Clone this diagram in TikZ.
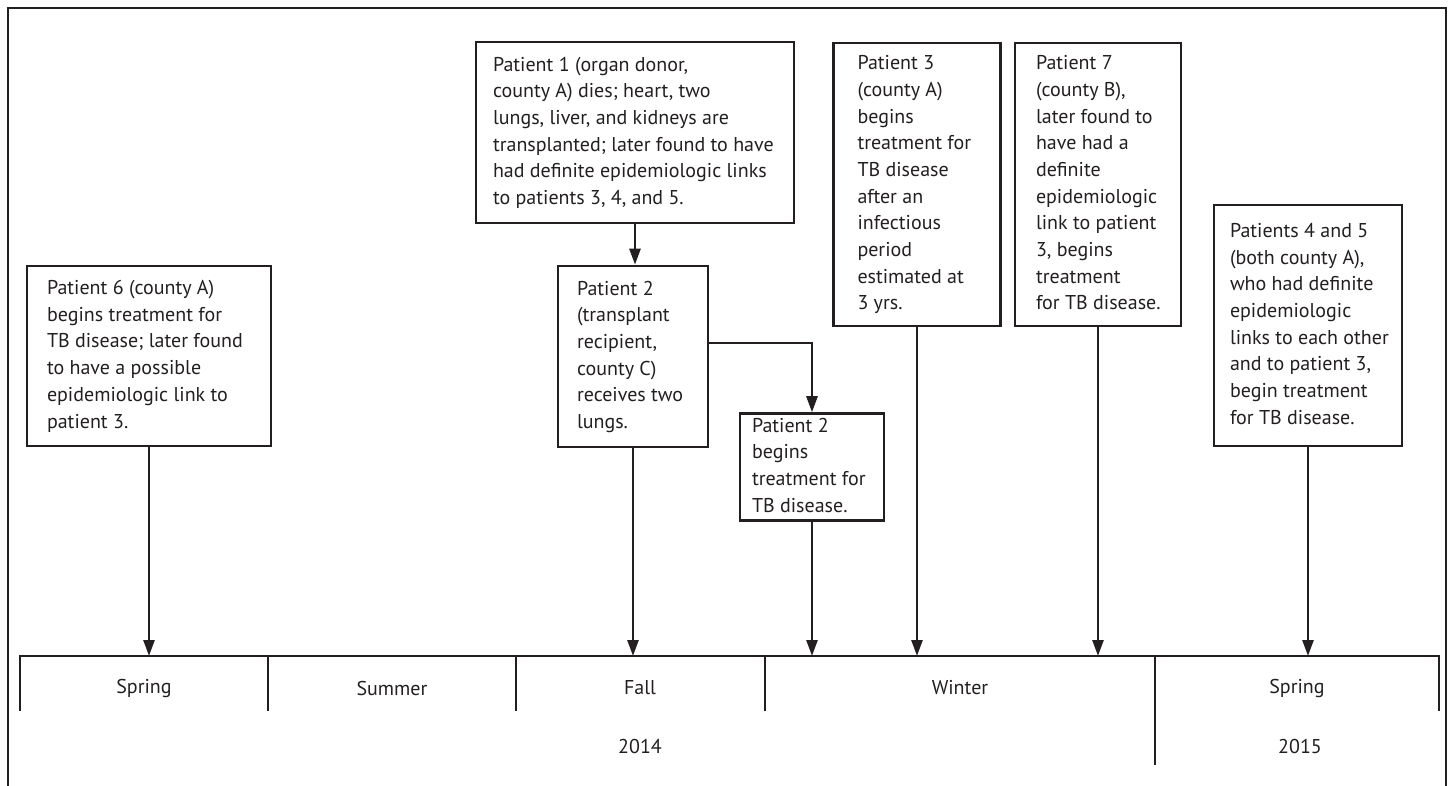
\documentclass[tikz,border=0pt]{standalone}
\usepackage{fontspec}
\setmainfont{PT Sans}
\usetikzlibrary{arrows.meta}
\definecolor{ink}{HTML}{231F20}
\newcommand{\boxtext}[2]{\makebox[#1][l]{\begin{tabular}{@{}l@{}}#2\end{tabular}}}
\begin{document}
\begin{tikzpicture}[x=1pt,y=-1pt,
  box/.style={draw=ink, line width=2.7pt, inner ysep=0pt, text=ink,
    font=\fontsize{20}{26.7}\selectfont},
  lbl/.style={font=\fontsize{20}{24}\selectfont, text=ink, inner sep=0pt},
  arr/.style={draw=ink, line width=2.6pt, -{Triangle[width=11pt,length=16pt]}},
  rule/.style={draw=ink, line width=2.7pt}]
\useasboundingbox (0,0) rectangle (1452,786);
% frame
\draw[draw=ink, line width=2.8pt] (8,786) -- (8,8) -- (1446,8) -- (1446,786);
% timeline
\coordinate (tl) at (20,656);
\coordinate (tr) at (1439,656);
\draw[rule] (20,711) -- (tl) -- (tr) -- (1439,711);
\draw[rule] (268,656) -- (268,711);
\draw[rule] (516,656) -- (516,711);
\draw[rule] (765,656) -- (765,711);
\draw[rule] (1155,656) -- (1155,765);
\node[lbl] (s1) at (144,688) {Spring};
\node[lbl] (su) at (392,688) {Summer};
\node[lbl] (fa) at (640,688) {Fall};
\node[lbl] (wi) at (960,688) {Winter};
\node[lbl] (s2) at (1297,688) {Spring};
\node[lbl] (y1) at (640,746) {2014};
\node[lbl] (y2) at (1300,746) {2015};
% boxes
\node[box, minimum width=244pt, minimum height=180pt, inner xsep=20pt] (p6) at (149,356)
  {\boxtext{204pt}{Patient 6 (county A)\\ begins treatment for\\ TB disease; later found\\ to have a possible\\ epidemiologic link to\\ patient 3.}};
\node[box, minimum width=318pt, minimum height=181pt, inner xsep=17pt] (p1) at (635,132.5)
  {\boxtext{284pt}{Patient 1 (organ donor,\\ county A) dies; heart, two\\ lungs, liver, and kidneys are\\ transplanted; later found to have\\ had definite epidemiologic links\\ to patients 3, 4, and 5.}};
\node[box, minimum width=150pt, minimum height=181pt, inner xsep=19pt] (p2) at (633,356.5)
  {\boxtext{112pt}{Patient 2\\ (transplant\\ recipient,\\ county C)\\ receives two\\ lungs.}};
\node[box, minimum width=144pt, minimum height=102pt, inner xsep=12pt] (p2b) at (812,467)
  {\boxtext{120pt}{Patient 2\\ begins\\ treatment for\\ TB disease.}};
\node[box, minimum width=167pt, minimum height=283pt, inner xsep=24pt] (p3) at (917,184.5)
  {\boxtext{119pt}{Patient 3\\ (county A)\\ begins\\ treatment for\\ TB disease\\ after an\\ infectious\\ period\\ estimated at\\ 3 yrs.}};
\node[box, minimum width=166pt, minimum height=283pt, inner xsep=21pt] (p7) at (1098,184.5)
  {\boxtext{124pt}{Patient 7\\ (county B),\\ later found to\\ have had a\\ definite\\ epidemiologic\\ link to patient\\ 3, begins\\ treatment\\ for TB disease.}};
\node[box, minimum width=188pt, minimum height=241pt, inner xsep=16pt] (p45) at (1308,325.5)
  {\boxtext{156pt}{Patients 4 and 5\\ (both county A),\\ who had definite\\ epidemiologic\\ links to each other\\ and to patient 3,\\ begin treatment\\ for TB disease.}};
% connectors
\coordinate (br) at (707,343);
\draw[arr] (p6.south) -- (p6.south |- tl);
\draw[arr] (p1.south) -- (p1.south |- p2.north);
\draw[arr] (p2.south) -- (p2.south |- tl);
\draw[arr] (p2.east |- br) -| (p2b.north);
\draw[arr] (p2b.south) -- (p2b.south |- tl);
\draw[arr] (p3.south) -- (p3.south |- tl);
\draw[arr] (p7.south) -- (p7.south |- tl);
\draw[arr] (p45.south) -- (p45.south |- tl);
\end{tikzpicture}
\end{document}
